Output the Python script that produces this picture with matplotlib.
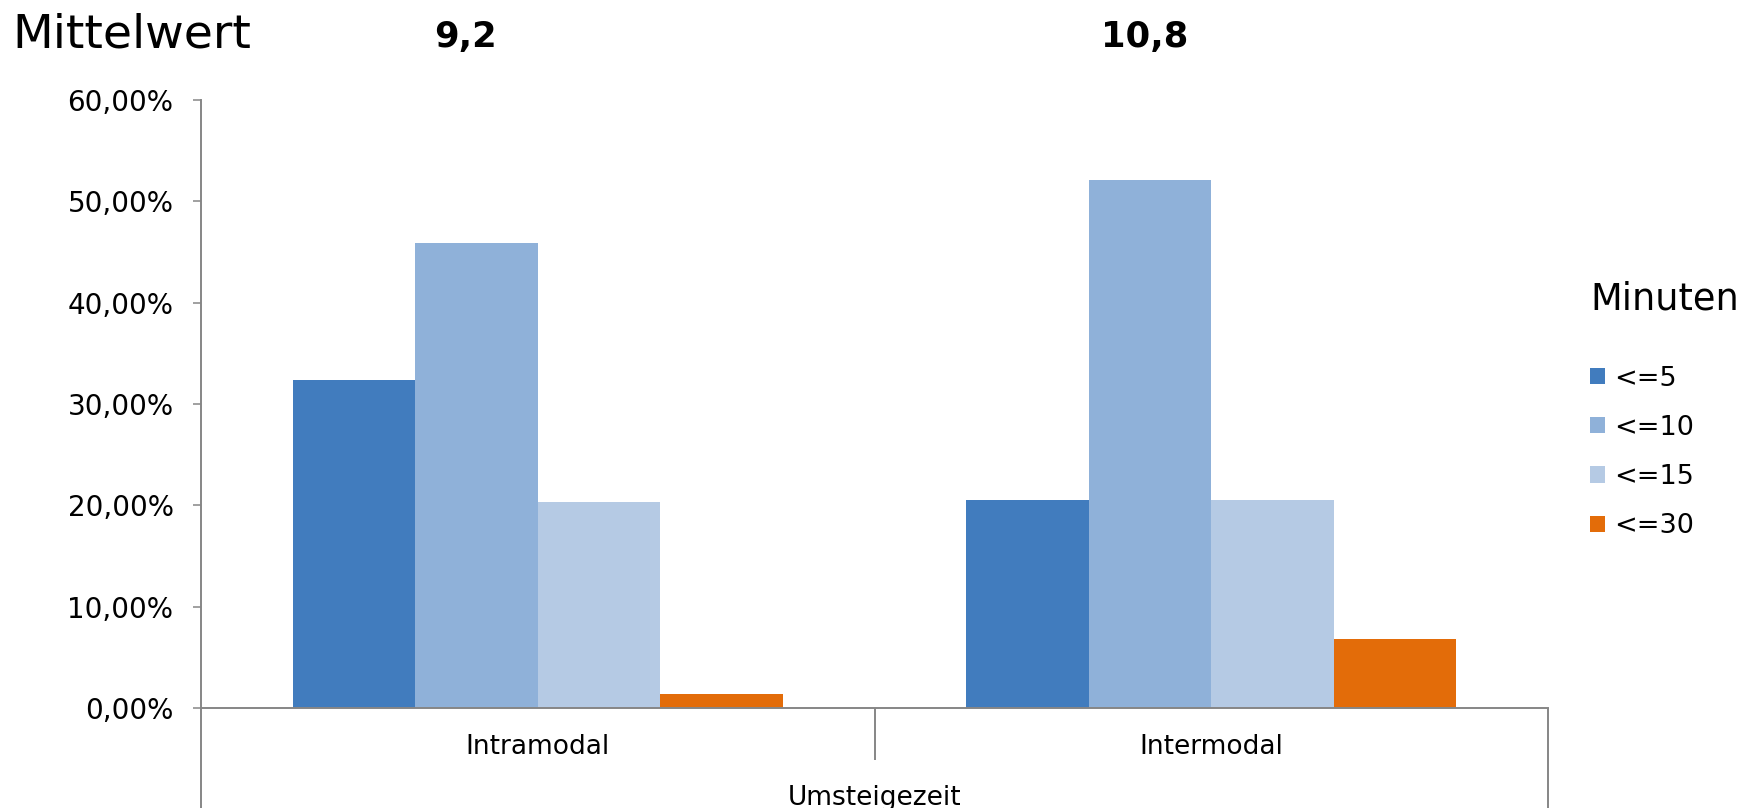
import matplotlib
matplotlib.use("Agg")
import matplotlib.pyplot as plt
import numpy as np
from matplotlib.patches import Patch
from matplotlib.ticker import FuncFormatter

# Transfer time shares per category and time bucket (percent)
categories = ["Intramodal", "Intermodal"]
series_labels = ["<=5", "<=10", "<=15", "<=30"]
intramodal = [32.4, 45.9, 20.3, 1.35]
intermodal = [20.5, 52.1, 20.5, 6.8]
mean_values = ["9,2", "10,8"]
yticks = [0, 10, 20, 30, 40, 50, 60]

colors = ["#417CBE", "#8FB1D9", "#B5CAE4", "#E36C09"]
axis_gray = "#868686"

plt.rcParams["font.family"] = ["DejaVu Sans"]

W, H = 1759, 808
fig = plt.figure(figsize=(W / 100, H / 100), dpi=100)
ax = fig.add_axes([201 / W, 1 - 708 / H, (1548 - 201) / W, (708 - 100) / H])

values = np.array([intramodal, intermodal])  # shape: category x series
x = np.arange(len(categories))
n = len(series_labels)
width = 1 / (n + 1.5)  # 150% gap between groups
for i in range(n):
    offs = (i - (n - 1) / 2) * width
    ax.bar(x + offs, values[:, i], width=width, color=colors[i],
           edgecolor="none", linewidth=0, zorder=2)

ax.set_xlim(-0.5, len(categories) - 0.5)
ax.set_ylim(0, 60)
ax.set_yticks(yticks)
ax.yaxis.set_major_formatter(FuncFormatter(lambda v, p: f"{v:.2f}".replace(".", ",") + "%"))
ax.tick_params(axis="y", length=5.8, width=1.1, color=axis_gray, pad=14,
               labelsize=20, labelcolor="black")

ax.set_xticks(x)
ax.set_xticklabels(categories)
ax.tick_params(axis="x", length=0, pad=19, labelsize=19, labelcolor="black")
ax.set_xlabel("Umsteigezeit", fontsize=19, labelpad=18)

for s in ["top", "right"]:
    ax.spines[s].set_visible(False)
for s in ["left", "bottom"]:
    ax.spines[s].set_color(axis_gray)
    ax.spines[s].set_linewidth(1.4)

# Multi-level category frame below the x axis
trans = ax.get_xaxis_transform()
bottom_frac = -(H - 708) / (708 - 100)
sep_frac = -(760 - 708) / (708 - 100)
edges = np.arange(len(categories) + 1) - 0.5
for k, e in enumerate(edges):
    y1 = bottom_frac if k in (0, len(edges) - 1) else sep_frac
    ax.plot([e, e], [0, y1], transform=trans, color=axis_gray, lw=1.4,
            clip_on=False, solid_capstyle="butt")

# Mean values above each group
fig.text(12 / W, 1 - 47 / H, "Mittelwert", fontsize=34, ha="left", va="baseline")
for xc, mv in zip([466, 1145], mean_values):
    fig.text(xc / W, 1 - 47 / H, mv, fontsize=25.5, fontweight="bold",
             ha="center", va="baseline")

handles = [Patch(facecolor=c, edgecolor="none") for c in colors]
leg = fig.legend(handles, series_labels, title="Minuten", loc="upper left",
                 bbox_to_anchor=(1590 / W, 1 - 280 / H), frameon=False,
                 fontsize=19.5, title_fontsize=26.5, handlelength=0.55,
                 handleheight=0.55, handletextpad=0.35, labelspacing=0.86,
                 borderpad=0, borderaxespad=0, alignment="left")
leg._legend_box.sep = 35

fig.savefig("out.png", dpi=100)
